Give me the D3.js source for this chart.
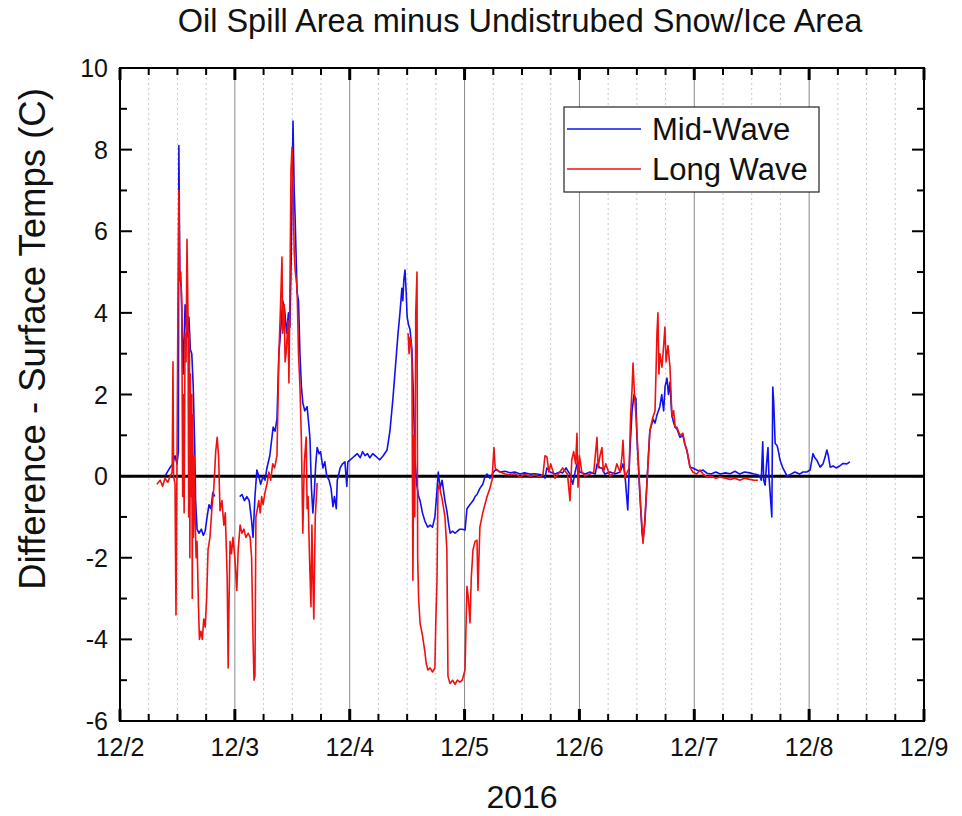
<!DOCTYPE html>
<html>
<head>
<meta charset="utf-8">
<script src="https://cdn.jsdelivr.net/npm/d3@7"></script>
<style>
  body { margin: 0; background: #fff; }
  text { font-family: "Liberation Sans", Arial, sans-serif; fill: #111; }
</style>
</head>
<body>
<svg class="main-svg" width="962" height="816"></svg>
<script>
// hours after 12/2 00:00, and temperature difference (C)
const midHours = [9.4,10.4,11.0,11.5,11.9,12.2,12.3,12.5,12.8,13.2,13.6,14.0,14.4,14.7,15.0,15.3,15.6,15.8,16.1,16.5,17.0,17.4,17.8,18.2,18.6,19.0,19.4,19.8,
  22.0,25.0,25.5,26.0,26.5,27.0,27.5,27.8,28.2,28.6,29.0,29.4,29.9,30.3,30.7,31.3,31.7,32.0,32.4,32.8,33.2,33.6,34.0,34.4,34.8,35.2,35.5,35.8,36.15,36.4,36.6,37.0,37.3,37.6,37.9,38.2,38.6,39.1,39.5,39.7,40.0,40.3,40.6,40.9,41.2,41.6,41.9,42.4,42.8,43.2,43.7,44.1,44.5,44.8,45.2,45.4,46.0,46.5,47.0,47.4,47.6,48.1,48.6,49.1,49.6,50.2,50.7,51.2,51.7,52.2,52.8,53.3,53.8,54.3,55.0,55.8,56.4,57.0,57.5,58.1,58.5,58.9,59.1,59.3,59.55,59.8,60.0,60.3,60.6,61.0,61.3,61.6,62.0,62.4,62.7,63.2,63.7,64.3,64.8,65.3,65.8,66.2,66.5,66.9,67.3,67.9,68.3,68.7,69.0,69.5,70.0,70.5,71.0,71.5,72.1,72.5,73.1,73.8,74.2,74.6,75.2,75.8,76.3,76.7,77.3,77.9,78.4,78.8,79.4,80.5,81.5,82.5,83.6,84.5,85.7,86.7,87.8,88.4,88.8,89.2,89.9,90.9,91.9,92.5,93.2,94.0,94.6,95.1,95.5,96.1,97.2,98.2,99.3,99.7,100.3,100.7,101.3,102.4,103.4,104.5,105.1,105.5,106.1,106.5,107.0,107.4,107.8,108.0,108.6,109.1,109.3,109.7,110.1,110.7,111.4,111.8,112.2,112.8,113.2,113.6,113.9,114.3,114.6,114.9,115.3,115.7,116.0,116.4,117.0,117.6,118.0,118.5,119.1,119.7,120.5,121.2,121.8,122.7,123.5,124.5,125.4,126.5,127.5,128.5,129.5,130.5,131.6,132.5,133.3,133.7,134.0,134.3,134.5,134.8,135.1,135.4,135.6,135.9,136.2,136.4,136.6,136.9,137.3,137.6,137.9,138.5,139.4,140.2,141.0,142.0,142.7,143.5,144.2,144.5,144.8,145.2,145.6,146.3,146.9,147.4,147.7,148.0,148.4,149.0,149.6,150.4,151.1,151.9,152.5];
const midTemp = [0.0,0.2,0.3,0.5,0.3,0.6,8.1,5.0,4.6,2.5,4.2,3.4,3.9,3.1,3.0,2.2,0.8,-0.6,-1.3,-1.4,-1.3,-1.45,-1.35,-1.0,-0.7,-0.8,-0.4,-0.5,
  null,-0.5,-0.45,-0.6,-0.5,-0.6,-1.1,-1.5,-0.5,0.15,0.0,-0.2,0.0,-0.1,0.2,0.5,0.9,1.2,1.1,1.4,3.0,3.6,4.3,4.1,3.5,4.0,3.65,5.5,8.7,7.0,6.3,4.5,4.3,3.0,2.2,1.8,1.6,1.7,1.2,0.9,-0.3,-0.9,-0.4,0.3,0.7,0.55,0.6,0.2,0.35,0.0,-0.1,-0.3,-0.75,-0.5,-0.8,-0.1,0.2,0.3,0.35,-0.25,0.35,0.4,0.45,0.5,0.55,0.45,0.6,0.5,0.55,0.45,0.55,0.5,0.45,0.4,0.5,0.64,1.1,1.86,2.6,3.5,4.0,4.6,4.3,4.8,5.05,4.5,3.9,3.7,3.6,3.1,2.0,0.5,-0.2,-0.5,-0.6,-0.9,-1.1,-1.25,-1.2,-1.25,-1.0,-0.4,0.1,-0.3,-0.1,-0.6,-0.85,-1.2,-1.4,-1.35,-1.4,-1.35,-1.3,-1.3,-1.32,-0.8,-0.7,-0.6,-0.5,-0.45,-0.3,-0.2,0.0,0.05,-0.05,0.07,0.15,0.15,0.1,0.12,0.08,0.1,0.05,0.08,0.05,0.06,0.04,0.02,-0.05,0.2,0.1,0.05,0.1,0.08,0.2,0.05,-0.2,0.1,0.3,0.1,0.05,0.1,0.05,0.3,0.2,0.2,0.05,0.1,0.05,0.1,0.3,0.05,-0.83,0.5,1.6,2.0,1.9,1.0,-0.4,-1.4,-1.55,-1.1,-0.17,1.1,1.4,1.3,1.5,1.7,2.0,1.6,2.2,2.4,2.0,2.3,1.5,1.3,1.2,1.15,0.95,1.0,0.8,0.6,0.22,0.2,0.15,0.12,0.15,0.07,0.05,0.1,0.05,0.08,0.06,0.12,0.05,0.1,0.08,0.05,0.03,0.0,-0.1,0.84,-0.1,-0.22,0.3,0.7,0.0,-0.5,-1.0,2.18,1.8,0.8,0.75,0.6,0.4,0.2,0.0,0.05,0.1,0.05,0.1,0.1,0.15,0.35,0.55,0.45,0.39,0.22,0.3,0.5,0.64,0.5,0.22,0.25,0.2,0.25,0.31,0.3,0.35];

const longHours = [7.7,8.4,8.9,9.4,10.0,10.5,10.9,11.07,11.2,11.5,11.7,11.9,12.1,12.3,12.5,12.7,12.9,13.1,13.2,13.4,13.6,13.8,14.0,14.2,14.35,14.5,14.6,14.7,14.85,15.0,15.1,15.2,15.35,15.5,15.7,15.9,16.1,16.4,16.6,16.9,17.2,17.5,17.8,18.1,18.4,18.8,19.2,19.6,20.0,20.3,20.6,20.9,21.3,21.7,22.0,22.4,22.6,22.8,23.0,23.3,23.6,24.0,24.4,24.7,25.1,25.5,25.9,26.3,26.8,27.2,27.5,27.8,28.0,28.2,28.4,28.7,29.0,29.3,29.6,29.9,30.3,30.7,31.1,31.5,31.9,32.3,32.8,33.2,33.5,33.85,34.0,34.3,34.5,34.7,35.1,35.3,35.5,35.73,35.94,36.15,36.4,36.6,37.0,37.3,37.6,37.9,38.0,38.2,38.5,38.9,39.1,39.3,39.6,39.9,40.1,40.3,40.5,40.8,41.2,
  50.0,60.2,60.4,60.6,60.8,61.0,61.2,61.4,61.6,61.8,62.06,62.2,62.4,62.7,63.2,63.7,64.0,64.35,64.8,65.3,65.8,66.0,66.23,66.44,66.7,67.0,67.3,67.9,68.3,68.53,68.95,69.5,70.0,70.5,71.0,71.5,72.09,72.5,72.8,73.13,73.4,73.76,74.2,74.59,74.8,75.2,75.8,76.7,77.3,77.73,78.14,78.4,78.8,79.4,80.5,81.5,82.5,83.6,84.5,85.7,86.7,87.8,88.4,88.8,89.22,89.6,90.0,90.9,91.9,92.5,93.5,94.03,94.4,94.8,95.2,95.49,95.7,96.0,96.5,97.2,98.2,99.0,99.67,99.9,100.3,100.71,101.0,101.5,102.4,103.4,103.8,104.5,104.9,105.1,105.5,106.0,106.4,106.7,106.98,107.2,107.5,107.8,108.02,108.65,109.07,109.28,109.6,110.11,110.74,111.37,111.8,112.2,112.41,112.6,112.83,113.25,113.6,113.87,114.1,114.5,114.92,115.34,115.7,116.0,116.38,117.0,117.63,118.0,118.47,119.1,119.7,120.5,121.19,121.81,122.65,123.5,124.5,125.37,126.5,127.5,128.5,129.5,130.5,131.6,132.5,133.3];
const longTemp = [-0.2,-0.1,-0.25,-0.05,-0.15,0.0,0.1,2.8,0.0,-0.2,-3.4,0.2,4.0,7.0,4.8,5.0,4.2,-0.5,2.0,-0.9,3.5,2.8,5.8,4.1,-1.0,3.5,-2.0,2.5,-0.5,2.0,-3.0,1.5,-1.5,0.5,-1.0,-2.0,-1.6,-3.2,-4.0,-3.8,-4.0,-3.5,-3.7,-3.0,-1.8,-1.5,-0.8,-0.3,0.6,0.95,0.5,-0.85,-0.6,-1.2,-0.9,-2.5,-4.7,-3.0,-1.6,-1.9,-1.5,-2.0,-2.8,-1.8,-1.2,-1.4,-1.3,-1.5,-1.4,-1.5,-2.0,-4.0,-5.0,-4.9,-1.0,-0.8,-0.6,-0.9,-0.5,-0.7,-0.4,-0.2,0.1,-0.1,0.3,0.2,0.5,3.0,4.0,5.37,3.5,4.2,2.8,3.0,3.8,2.28,4.5,7.5,8.06,7.08,5.5,5.05,4.6,3.0,2.2,0.9,0.15,-1.4,0.3,0.96,-0.8,-0.5,-2.0,-3.2,-1.2,-2.5,-3.5,-1.0,-0.17,
  null,3.5,3.0,3.4,3.3,2.8,-2.55,1.0,-1.0,4.0,5.0,-2.0,-3.0,-3.6,-3.9,-4.3,-4.6,-4.75,-4.7,-4.8,-4.7,-3.5,-2.6,-0.35,-0.2,-0.4,-0.55,-1.0,-1.8,-4.9,-5.08,-5.0,-5.1,-5.0,-5.05,-5.0,-4.75,-2.7,-3.0,-3.6,-2.5,-1.8,-1.6,-1.57,-2.8,-1.25,-0.9,-0.5,-0.3,-0.1,0.7,0.2,0.15,0.1,0.05,0.03,0.06,-0.02,0.04,0.0,0.03,-0.02,0.05,0.5,0.47,0.1,0.3,-0.05,0.1,0.2,0.05,-0.6,0.4,0.6,0.3,1.05,-0.27,0.5,0.1,0.0,0.05,0.1,0.95,0.2,0.5,0.7,0.1,0.3,0.0,0.1,0.3,0.1,0.5,0.88,-0.05,0.1,0.2,1.5,2.1,2.77,2.0,1.5,1.05,-0.42,-1.25,-1.65,-1.2,-0.17,1.13,1.45,1.6,3.5,4.0,2.5,3.0,2.67,3.2,3.65,2.8,3.2,2.67,1.45,1.6,1.2,1.2,1.0,1.05,0.8,0.64,0.22,0.1,0.05,0.15,0.05,-0.02,0.0,-0.05,-0.02,-0.05,-0.08,-0.05,-0.1,-0.05,-0.08,-0.1,-0.1];

const seriesNames = ["Mid-Wave", "Long Wave"];
const seriesColors = ["#1010f0", "#f01010"];
const yTicks = [-6, -4, -2, 0, 2, 4, 6, 8, 10];

const start = new Date(2016, 11, 2);
const toDate = h => new Date(start.getTime() + h * 3600 * 1000);

const svg = d3.select(".main-svg");
const margin = {left: 120, right: 38, top: 68, bottom: 95};
const width = 962, height = 816;
const x0 = margin.left, x1 = width - margin.right;
const y0 = margin.top, y1 = height - margin.bottom;

const x = d3.scaleTime()
  .domain([new Date(2016, 11, 2), new Date(2016, 11, 9)])
  .range([x0, x1]);
const y = d3.scaleLinear().domain([-6, 10]).range([y1, y0]);

const quarters = d3.timeHour.every(6).range(x.domain()[0], d3.timeHour.offset(x.domain()[1], 1));
const days = quarters.filter(d => d.getHours() === 0);

// grid
const grid = svg.append("g");
grid.selectAll(".minor")
  .data(quarters.filter(d => d.getHours() !== 0))
  .join("line")
    .attr("x1", d => x(d)).attr("x2", d => x(d))
    .attr("y1", y0).attr("y2", y1)
    .attr("stroke", "#c8c8c8")
    .attr("stroke-dasharray", "2,3");
grid.selectAll(".major")
  .data(days.slice(1, -1))
  .join("line")
    .attr("x1", d => x(d)).attr("x2", d => x(d))
    .attr("y1", y0).attr("y2", y1)
    .attr("stroke", "#8a8a8a")
    .attr("stroke-width", 1);

// zero line
svg.append("line")
  .attr("x1", x0).attr("x2", x1)
  .attr("y1", y(0)).attr("y2", y(0))
  .attr("stroke", "#000").attr("stroke-width", 3);

// series
const midData = midHours.map((h, i) => ({t: toDate(h), v: midTemp[i]}));
const longData = longHours.map((h, i) => ({t: toDate(h), v: longTemp[i]}));
const line = d3.line()
  .defined(d => d.v !== null)
  .x(d => x(d.t))
  .y(d => y(d.v));

[midData, longData].forEach((data, i) => {
  svg.append("path")
    .datum(data)
    .attr("fill", "none")
    .attr("stroke", seriesColors[i])
    .attr("stroke-width", 1.6)
    .attr("stroke-linejoin", "round")
    .attr("d", line);
});

// frame
svg.append("rect")
  .attr("x", x0).attr("y", y0)
  .attr("width", x1 - x0).attr("height", y1 - y0)
  .attr("fill", "none").attr("stroke", "#000").attr("stroke-width", 2);

// ticks (inward, on all four sides)
const ticks = svg.append("g").attr("stroke", "#000").attr("stroke-width", 2);
quarters.forEach(d => {
  const len = d.getHours() === 0 ? 12 : 7;
  const w = d.getHours() === 0 ? 3 : 2;
  ticks.append("line").attr("x1", x(d)).attr("x2", x(d)).attr("y1", y1).attr("y2", y1 - len).attr("stroke-width", w);
  ticks.append("line").attr("x1", x(d)).attr("x2", x(d)).attr("y1", y0).attr("y2", y0 + len).attr("stroke-width", w);
});
d3.range(-6, 11, 1).forEach(v => {
  const len = v % 2 === 0 ? 12 : 7;
  ticks.append("line").attr("x1", x0).attr("x2", x0 + len).attr("y1", y(v)).attr("y2", y(v));
  ticks.append("line").attr("x1", x1).attr("x2", x1 - len).attr("y1", y(v)).attr("y2", y(v));
});

// tick labels
svg.append("g").selectAll("text")
  .data(days)
  .join("text")
    .attr("x", d => x(d))
    .attr("y", y1 + 35)
    .attr("text-anchor", "middle")
    .attr("font-size", 25)
    .text(d3.timeFormat("%-m/%-d"));
svg.append("g").selectAll("text")
  .data(yTicks)
  .join("text")
    .attr("x", x0 - 12)
    .attr("y", d => y(d) + 9)
    .attr("text-anchor", "end")
    .attr("font-size", 25)
    .text(d => d);

// titles
svg.append("text")
  .attr("x", 520).attr("y", 32)
  .attr("text-anchor", "middle")
  .attr("font-size", 32.5)
  .text("Oil Spill Area minus Undistrubed Snow/Ice Area");
svg.append("text")
  .attr("x", 522).attr("y", 808)
  .attr("text-anchor", "middle")
  .attr("font-size", 32)
  .text("2016");
svg.append("text")
  .attr("transform", "translate(45,339) rotate(-90)")
  .attr("text-anchor", "middle")
  .attr("font-size", 36.5)
  .text("Difference - Surface Temps (C)");

// legend
const legend = svg.append("g").attr("transform", "translate(564,107)");
legend.append("rect")
  .attr("width", 255).attr("height", 85)
  .attr("fill", "#fff").attr("stroke", "#222").attr("stroke-width", 1.2);
seriesNames.forEach((name, i) => {
  const ly = 22 + i * 40;
  legend.append("line")
    .attr("x1", 3).attr("x2", 77)
    .attr("y1", ly).attr("y2", ly)
    .attr("stroke", seriesColors[i]).attr("stroke-width", 1.5);
  legend.append("text")
    .attr("x", 88).attr("y", ly + 11)
    .attr("font-size", 31)
    .text(name);
});
</script>
</body>
</html>
